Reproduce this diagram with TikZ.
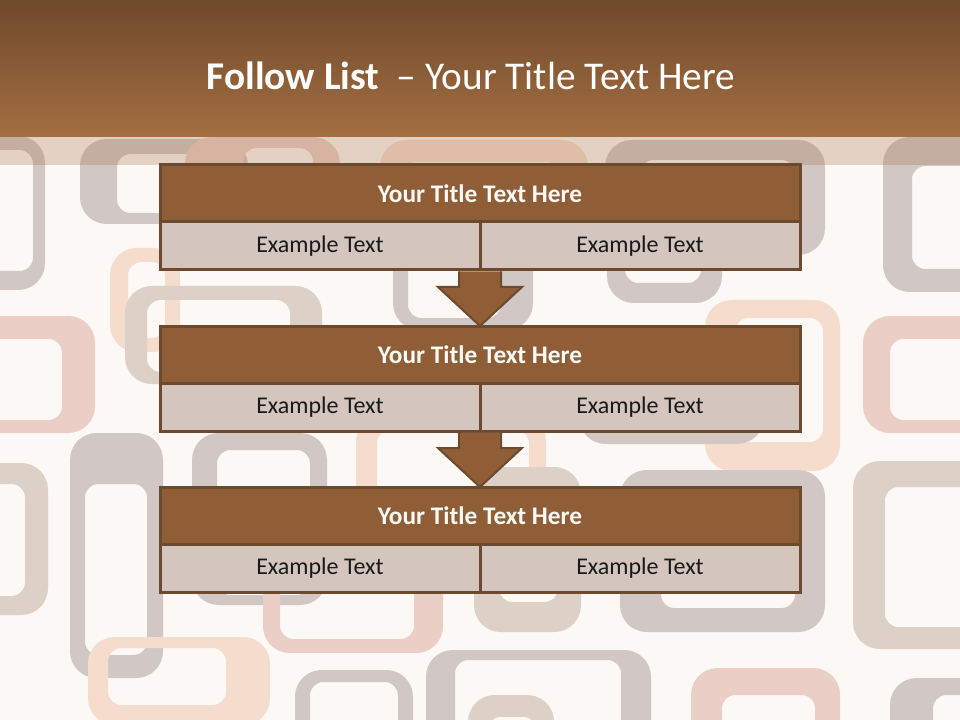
\documentclass[tikz,border=0pt]{standalone}
\usepackage{fontspec}
\setmainfont{Carlito}
\usepackage{tikz}
\usetikzlibrary{arrows.meta,positioning,calc}
\definecolor{hdrtop}{HTML}{6E4A2B}
\definecolor{hdrbot}{HTML}{A46E42}
\definecolor{cremeBg}{HTML}{FCF8F5}
\definecolor{brunF}{HTML}{8F5E36}
\definecolor{brunD}{HTML}{6B4A2D}
\definecolor{rowF}{HTML}{D4C6BF}
\definecolor{motG}{HTML}{D1C8C6}
\definecolor{motB}{HTML}{DDD0C7}
\definecolor{motP}{HTML}{EBCFC6}
\definecolor{motQ}{HTML}{F6DCCD}
\tikzset{
  titlebar/.style={rectangle, draw=brunD, line width=2.25pt, fill=brunF, outer sep=0pt,
                   minimum width=480pt, minimum height=42.75pt, inner sep=0pt,
                   font=\fontsize{19}{21}\selectfont\bfseries, text=white!96!brown},
  rowcell/.style={rectangle, draw=brunD, line width=2.25pt, fill=rowF, outer sep=0pt,
                  minimum width=240pt, minimum height=36pt, inner sep=0pt,
                  font=\fontsize{18}{20}\selectfont, text=black!90},
  flowarr/.style={draw=brunD, line width=1.5pt, fill=brunF, line join=miter},
}

\begin{document}
\begin{tikzpicture}[x=0.75pt, y=-0.75pt]
  \useasboundingbox (0,0) rectangle (960,720);
  \fill[cremeBg] (0,0) rectangle (960,720);
  % motif de fond
  \begin{scope}
    \clip (0,0) rectangle (960,720);
    \foreach \c/\ax/\ay/\bx/\by/\cx/\cy/\dx/\dy in {
      motG/-60/136/45/290/-30/150/33/271,
      motG/80/139/248/224/117/154/222/213,
      motP/185/137/340/262/243/148/313/240,
      motQ/380/140/588/262/403/162/560/250,
      motG/393/200/533/330/408/215/501/318,
      motG/605/140/825/255/640/160/795/240,
      motG/607/200/722/303/625/215/701/283,
      motG/883/137/1000/292/912/166/1000/269,
      motQ/110/248/180/352/128/262/165/338,
      motB/125/286/322/384/147/300/290/372,
      motP/-60/316/95/433/-40/339/62/420,
      motQ/705/300/840/471/735/318/823/442,
      motP/863/316/1000/433/890/339/1000/420,
      motG/579/350/764/444/600/360/745/430,
      motB/-60/463/48/615/-40/484/25/596,
      motG/70/433/163/678/85/484/147/655,
      motG/192/433/327/605/217/450/310/595,
      motQ/356/415/546/560/377/430/529/545,
      motB/474/467/581/632/499/490/558/602,
      motG/620/470/825/632/661/490/795/608,
      motB/853/461/1000/649/885/487/1000/627,
      motP/263/540/443/653/280/550/414/639,
      motQ/88/637/270/725/108/648/226/705,
      motG/295/670/413/760/310/682/398/760,
      motG/426/650/651/760/455/660/621/760,
      motB/468/695/554/760/487/717/537/760,
      motP/691/668/840/760/722/695/815/760,
      motG/890/678/1000/760/933/695/1000/760}
      \fill[\c, even odd rule, rounded corners=20pt] (\ax,\ay) rectangle (\bx,\by)
        [rounded corners=10pt] (\cx,\cy) rectangle (\dx,\dy);
  \end{scope}
  \fill[hdrbot, opacity=0.28] (0,137) rectangle (960,165);
  \shade[top color=hdrtop, bottom color=hdrbot] (0,0) rectangle (960,137);
  \node[text=white, font=\fontsize{29.5}{33}\selectfont] (titre) at (471,76)
    {\textbf{Follow List}\ \ -- Your Title Text Here};

  % bloc 1
  \node[titlebar] (t1) at (480,193.5) {Your Title Text Here};
  \node[rowcell, anchor=north west] (r1a) at (t1.south west) {Example Text};
  \node[rowcell, anchor=north west] (r1b) at (r1a.north east) {Example Text};
  \coordinate (c1) at (t1 |- r1a.south);
  % bloc 2
  \node[titlebar, below=42pt of c1] (t2) {Your Title Text Here};
  \node[rowcell, anchor=north west] (r2a) at (t2.south west) {Example Text};
  \node[rowcell, anchor=north west] (r2b) at (r2a.north east) {Example Text};
  \coordinate (c2) at (t2 |- r2a.south);
  % bloc 3
  \node[titlebar, below=42pt of c2] (t3) {Your Title Text Here};
  \node[rowcell, anchor=north west] (r3a) at (t3.south west) {Example Text};
  \node[rowcell, anchor=north west] (r3b) at (r3a.north east) {Example Text};

  \draw[flowarr] ($(c1)+(-21,1.5)$) -- ($(c1)+(-21,17)$) -- ($(c1)+(-42,17)$) -- (t2.north)
    -- ($(c1)+(42,17)$) -- ($(c1)+(21,17)$) -- ($(c1)+(21,1.5)$);
  \draw[flowarr] ($(c2)+(-21,1.5)$) -- ($(c2)+(-21,17)$) -- ($(c2)+(-42,17)$) -- (t3.north)
    -- ($(c2)+(42,17)$) -- ($(c2)+(21,17)$) -- ($(c2)+(21,1.5)$);
\end{tikzpicture}
\end{document}
